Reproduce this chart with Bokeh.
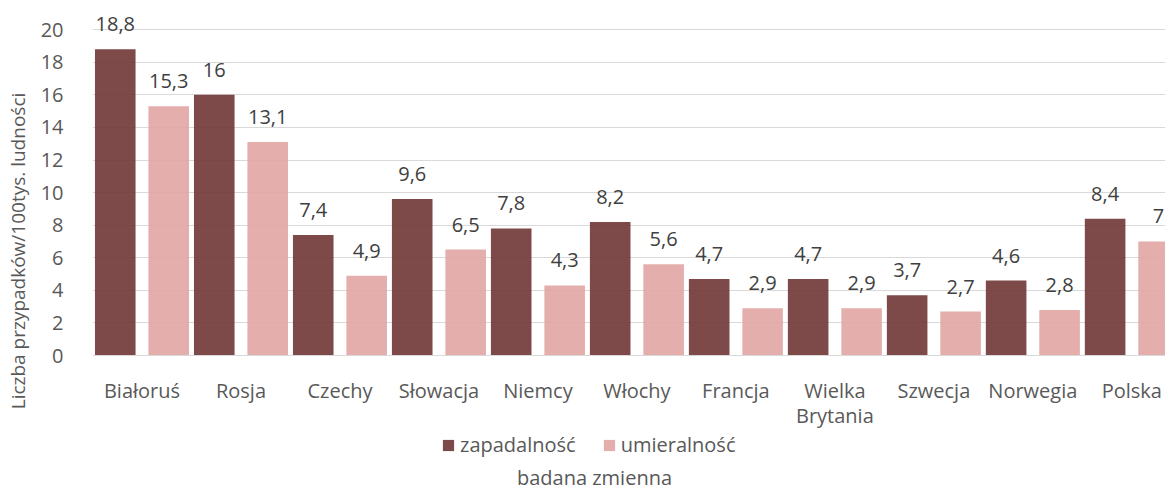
from bokeh.plotting import figure
from bokeh.models import (ColumnDataSource, FixedTicker, Legend, LegendItem, Label, Range1d)
from bokeh.transform import dodge
from bokeh.core.properties import value
from bokeh.embed import file_html
from bokeh.resources import INLINE

countries = ["Białoruś", "Rosja", "Czechy", "Słowacja", "Niemcy", "Włochy",
             "Francja", "Wielka\nBrytania", "Szwecja", "Norwegia", "Polska"]
zapadalnosc = [18.8, 16, 7.4, 9.6, 7.8, 8.2, 4.7, 4.7, 3.7, 4.6, 8.4]
umieralnosc = [15.3, 13.1, 4.9, 6.5, 4.3, 5.6, 2.9, 2.9, 2.7, 2.8, 7]
y_ticks = [0, 2, 4, 6, 8, 10, 12, 14, 16, 18, 20]
series_names = ["zapadalność", "umieralność"]
y_title = "Liczba przypadków/100tys. ludności"
x_title = "badana zmienna"

def fmt(v):
    return (str(int(v)) if float(v).is_integer() else str(v)).replace(".", ",")

idx = list(range(len(countries)))
src = ColumnDataSource(dict(
    x=idx,
    z=zapadalnosc, u=umieralnosc,
    zl=[fmt(v) for v in zapadalnosc],
    ul=[fmt(v) for v in umieralnosc],
))

FONT = "Open Sans"
FS = "20px"
GRAY = "#595959"
DARK = "#733a3a"
LIGHT = "#e2a7a6"

p = figure(frame_width=1073, frame_height=485, output_backend="svg", toolbar_location=None,
           x_range=Range1d(-0.5, 10.34), y_range=Range1d(-8.47, 21.3),
           min_border_left=92, min_border_right=0, min_border_top=8,
           min_border_bottom=0)
p.outline_line_color = None
p.background_fill_color = "white"

r1 = p.vbar(x=dodge("x", -0.27, range=p.x_range), top="z", width=0.41, source=src,
            fill_color=DARK, fill_alpha=0.92, line_color=None)
r2 = p.vbar(x=dodge("x", 0.27, range=p.x_range), top="u", width=0.41, source=src,
            fill_color=LIGHT, fill_alpha=0.92, line_color=None)

for col, lab, off in (("z", "zl", -0.27), ("u", "ul", 0.27)):
    p.text(x=dodge("x", off, range=p.x_range), y=col, text=lab, source=src,
           text_align="center", text_baseline="middle", y_offset=-25,
           text_font=value(FONT), text_font_size=FS, text_color="#404040")

# y axis
p.yaxis.ticker = FixedTicker(ticks=y_ticks)
p.yaxis.bounds = (-1.5, 20)
p.yaxis.axis_line_color = None
p.yaxis.major_tick_line_color = None
p.yaxis.minor_tick_line_color = None
p.yaxis.major_label_text_font = FONT
p.yaxis.major_label_text_font_size = FS
p.yaxis.major_label_text_color = GRAY
p.yaxis.major_label_standoff = 23
p.yaxis.axis_label = y_title
p.yaxis.axis_label_text_font = FONT
p.yaxis.axis_label_text_font_size = "19px"
p.yaxis.axis_label_text_font_style = "normal"
p.yaxis.axis_label_text_color = GRAY
p.yaxis.axis_label_standoff = 7

# x axis, drawn at y = 0
p.xaxis.fixed_location = 0
p.xaxis.ticker = FixedTicker(ticks=idx)
p.xaxis.major_label_overrides = {i: c for i, c in zip(idx, countries)}
p.xaxis.axis_line_color = "#d9d9d9"
p.xaxis.major_tick_line_color = None
p.xaxis.minor_tick_line_color = None
p.xaxis.major_label_text_font = FONT
p.xaxis.major_label_text_font_size = FS
p.xaxis.major_label_text_color = GRAY
p.xaxis.major_label_text_line_height = 0.96
p.xaxis.major_label_standoff = 15

p.xgrid.grid_line_color = None
p.ygrid.grid_line_color = "#d9d9d9"
p.ygrid.ticker = FixedTicker(ticks=y_ticks)

legend = Legend(items=[LegendItem(label=series_names[0], renderers=[r1]),
                       LegendItem(label=series_names[1], renderers=[r2])],
                orientation="horizontal", location=(349, 35),
                label_text_font=FONT, label_text_font_size=FS,
                label_text_color=GRAY, glyph_width=14, glyph_height=14,
                spacing=26, label_standoff=5, border_line_color=None,
                background_fill_alpha=0, padding=0, margin=0)
p.add_layout(legend, "center")

p.add_layout(Label(x=502, y=16, x_units="screen", y_units="screen", text=x_title,
                   text_align="center", text_baseline="middle",
                   text_font=FONT, text_font_size=FS, text_color=GRAY))

open("out.html", "w").write(file_html(p, INLINE))
